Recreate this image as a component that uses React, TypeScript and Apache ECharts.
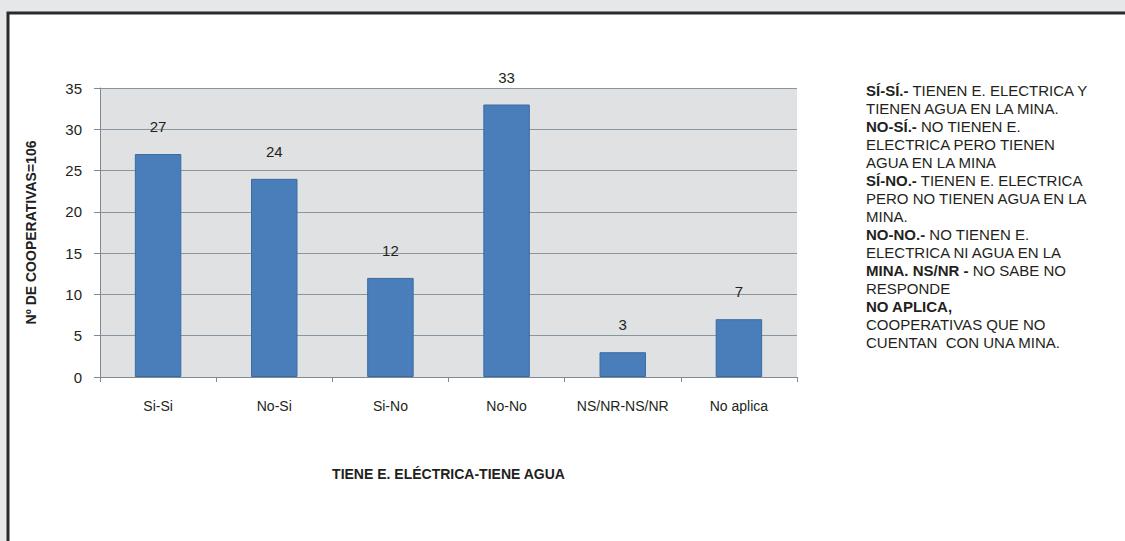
import React, { useEffect, useRef } from "react";
import * as echarts from "echarts";

const categories = ["Si-Si", "No-Si", "Si-No", "No-No", "NS/NR-NS/NR", "No aplica"];
const values = [27, 24, 12, 33, 3, 7];
const yTitle = "Nº DE COOPERATIVAS=106";
const xTitle = "TIENE E. ELÉCTRICA-TIENE AGUA";
const noteLines: [string, string][] = [
  ["SÍ-SÍ.-", " TIENEN E. ELECTRICA Y"],
  ["", "TIENEN AGUA EN LA MINA."],
  ["NO-SÍ.-", " NO TIENEN E."],
  ["", "ELECTRICA PERO TIENEN"],
  ["", "AGUA EN LA MINA"],
  ["SÍ-NO.-", " TIENEN E. ELECTRICA"],
  ["", "PERO NO TIENEN AGUA EN LA"],
  ["", "MINA."],
  ["NO-NO.-", " NO TIENEN E."],
  ["", "ELECTRICA NI AGUA EN LA"],
  ["MINA. NS/NR -", " NO SABE NO"],
  ["", "RESPONDE"],
  ["NO APLICA,", ""],
  ["", "COOPERATIVAS QUE NO"],
  ["", "CUENTAN  CON UNA MINA."],
];

const FONT = "'Liberation Sans', Arial, sans-serif";

export default function App() {
  const ref = useRef<HTMLDivElement>(null);
  useEffect(() => {
    if (!ref.current) return;
    const chart = echarts.init(ref.current, null, { renderer: "svg" });
    const noteText = noteLines
      .map(([b, n]) => (b ? `{b|${b}}` : "") + (n ? `{n|${n}}` : ""))
      .join("\n");
    chart.setOption({
      animation: false,
      backgroundColor: "#e6e7e8",
      textStyle: { fontFamily: FONT },
      graphic: [
        {
          type: "rect",
          shape: { x: 8, y: 13, width: 1140, height: 560 },
          style: { fill: "#ffffff", stroke: "#2a2a2a", lineWidth: 3 },
          z: -10,
        },
        {
          type: "text",
          left: 866,
          top: 81,
          style: {
            text: noteText,
            fontFamily: FONT,
            fontSize: 15,
            lineHeight: 18,
            fill: "#231f20",
            rich: {
              b: { fontWeight: "bold", fontSize: 15, lineHeight: 18, fontFamily: FONT, fill: "#231f20" },
              n: { fontSize: 15, lineHeight: 18, fontFamily: FONT, fill: "#231f20" },
            },
          },
        },
      ],
      grid: {
        left: 100,
        right: 328,
        top: 88,
        bottom: 164,
        show: true,
        backgroundColor: "#e0e1e3",
        borderWidth: 0,
      },
      xAxis: {
        type: "category",
        data: categories,
        name: xTitle,
        nameLocation: "middle",
        nameGap: 90,
        nameTextStyle: { fontFamily: FONT, fontWeight: "bold", fontSize: 14, color: "#231f20" },
        axisLine: { lineStyle: { color: "#7f8a92", width: 1 } },
        axisTick: { show: true, length: 5, lineStyle: { color: "#7f8a92" } },
        axisLabel: { interval: 0, fontFamily: FONT, fontSize: 14, color: "#231f20", margin: 22 },
      },
      yAxis: {
        type: "value",
        min: 0,
        max: 35,
        interval: 5,
        name: yTitle,
        nameLocation: "middle",
        nameRotate: 90,
        nameGap: 62,
        nameTextStyle: { fontFamily: FONT, fontWeight: "bold", fontSize: 14, color: "#231f20" },
        axisLine: { show: true, lineStyle: { color: "#7f8a92", width: 1 } },
        axisTick: { show: true, length: 6, lineStyle: { color: "#7f8a92" } },
        axisLabel: { fontFamily: FONT, fontSize: 15, color: "#231f20", margin: 18 },
        splitLine: { lineStyle: { color: "#8796a0", width: 1.2 } },
      },
      series: [
        {
          type: "bar",
          data: values,
          barWidth: "40%",
          itemStyle: { color: "#4a7ebb", borderColor: "#3a6aa0", borderWidth: 1 },
          label: {
            show: true,
            position: "top",
            distance: 20,
            fontFamily: FONT,
            fontSize: 15,
            color: "#231f20",
          },
        },
      ],
    });
    return () => chart.dispose();
  }, []);
  return (
    <div
      ref={ref}
      style={{ position: "fixed", left: 0, top: 0, width: 1125, height: 541 }}
    />
  );
}
